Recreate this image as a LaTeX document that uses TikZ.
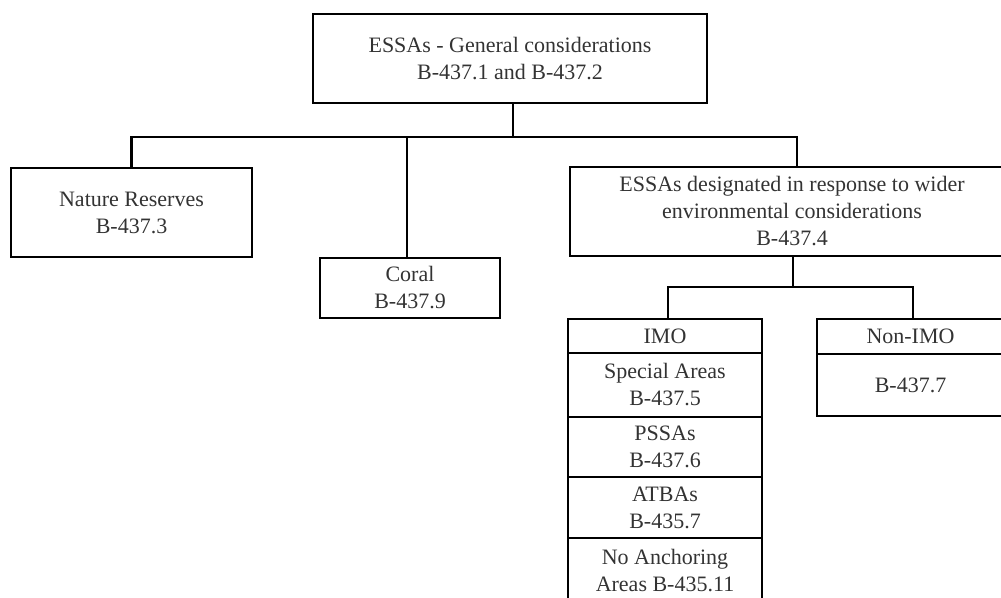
\documentclass[tikz,border=0pt]{standalone}
\usepackage{fontspec}
\setmainfont{Liberation Serif}
\definecolor{txt}{HTML}{333333}
\begin{document}
\begin{tikzpicture}[x=1pt,y=1pt,
  box/.style={draw=black, line width=2.2pt, rectangle, inner sep=0pt, outer sep=0pt,
    align=center, text=txt, font=\fontsize{22pt}{27pt}\selectfont},
  conn/.style={draw=black, line width=2.2pt}]
\useasboundingbox (0,0) rectangle (1001,-597);
% top level
\node[box, minimum width=394, minimum height=89] (top) at (510,-58.5)
  {ESSAs - General considerations\\B-437.1 and B-437.2};
\node[box, minimum width=241, minimum height=89] (nat) at (131.5,-212.5)
  {Nature Reserves\\B-437.3};
\node[box, minimum width=180, minimum height=60] (cor) at (410,-288)
  {Coral\\B-437.9};
\node[box, minimum width=444, minimum height=89] (des) at (792,-211.5)
  {ESSAs designated in response to wider\\environmental considerations\\B-437.4};
% IMO stack
\node[box, minimum width=194, minimum height=34] (imo) at (665,-336)
  {IMO};
\node[box, minimum width=194, minimum height=64, anchor=north] (spa) at (imo.south)
  {Special Areas\\B-437.5};
\node[box, minimum width=194, minimum height=60, anchor=north] (pss) at (spa.south)
  {PSSAs\\B-437.6};
\node[box, minimum width=194, minimum height=61, anchor=north] (atb) at (pss.south)
  {ATBAs\\B-435.7};
\node[box, minimum width=194, minimum height=66, anchor=north] (noa) at (atb.south)
  {No Anchoring\\Areas B-435.11};
% Non-IMO
\node[box, minimum width=187, minimum height=35] (non) at (910.5,-336.5)
  {Non-IMO};
\node[box, minimum width=187, minimum height=62, anchor=north] (nonb) at (non.south)
  {B-437.7};
% connectors
\coordinate (bus) at (0,-137);
\coordinate (topS) at ([xshift=3pt]top.south);
\coordinate (corN) at ([xshift=-3pt]cor.north);
\coordinate (desN) at ([xshift=5pt]des.north);
\draw[conn] (topS) -- (topS |- bus);
\draw[conn] (nat.north) -- (nat.north |- bus) -- (desN |- bus) -- (desN);
\draw[conn] (corN) -- (corN |- bus);
\coordinate (sub) at (0,-287);
\coordinate (desS) at ([xshift=1pt]des.south);
\coordinate (imoN) at ([xshift=3pt]imo.north);
\coordinate (nonN) at ([xshift=2.5pt]non.north);
\draw[conn] (desS) -- (desS |- sub);
\draw[conn] (imoN) -- (imoN |- sub) -- (nonN |- sub) -- (nonN);
\end{tikzpicture}
\end{document}
